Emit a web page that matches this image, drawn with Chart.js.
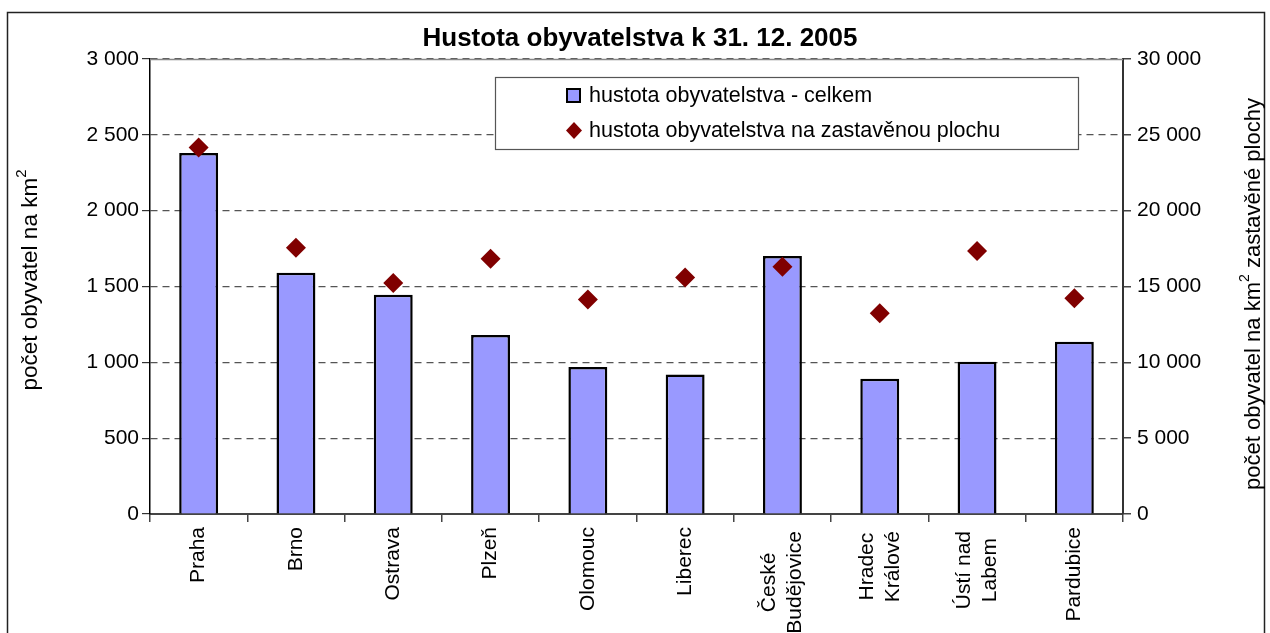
<!DOCTYPE html>
<html>
<head>
<meta charset="utf-8">
<script src="https://cdn.jsdelivr.net/npm/chart.js@4"></script>
<style>
html,body{margin:0;padding:0;background:#fff;}
#wrap{width:1270px;height:633px;position:relative;}
</style>
</head>
<body>
<div id="wrap"><canvas id="c" width="1270" height="633"></canvas></div>
<script>
const categories = ['Praha','Brno','Ostrava','Plzeň','Olomouc','Liberec',['České','Budějovice'],['Hradec','Králové'],['Ústí nad','Labem'],'Pardubice'];
const densityTotal = [2380,1590,1446,1180,969,919,1701,892,1004,1136];
const densityBuilt = [24160,17560,15230,16835,14150,15600,16310,13230,17340,14220];
const leftTicks = [0,500,1000,1500,2000,2500,3000];
const rightTicks = [0,5000,10000,15000,20000,25000,30000];
const titleText = 'Hustota obyvatelstva k 31. 12. 2005';
const seriesNames = ['hustota obyvatelstva - celkem','hustota obyvatelstva na zastavěnou plochu'];
const leftAxisTitle = 'počet obyvatel na km²';
const rightAxisTitle = 'počet obyvatel na km² zastavěné plochy';

const FONT = '"Liberation Sans", Arial, sans-serif';
const fmt = v => String(v).replace(/\B(?=(\d{3})+(?!\d))/g, ' ');

// draws text centred at origin, rendering "²" as a raised small 2
function drawSupText(ctx, text, size) {
  const parts = text.split('²');
  const big = size + 'px ' + FONT, small = Math.round(size * 0.65) + 'px ' + FONT;
  const segs = [];
  parts.forEach((p, i) => {
    if (p) segs.push({ t: p, f: big, dy: 0 });
    if (i < parts.length - 1) segs.push({ t: '2', f: small, dy: -size * 0.42 });
  });
  let total = 0;
  segs.forEach(s => { ctx.font = s.f; s.w = ctx.measureText(s.t).width; total += s.w; });
  let x = -total / 2;
  ctx.textAlign = 'left';
  ctx.textBaseline = 'middle';
  segs.forEach(s => { ctx.font = s.f; ctx.fillText(s.t, x, s.dy); x += s.w; });
}

const decor = {
  id: 'decor',
  beforeDraw(chart) {
    const ctx = chart.ctx;
    ctx.save();
    ctx.fillStyle = '#fff';
    ctx.fillRect(0, 0, chart.width, chart.height);
    ctx.restore();
  },
  afterDraw(chart) {
    const ctx = chart.ctx;
    const a = chart.chartArea;
    ctx.save();
    // outer border
    ctx.strokeStyle = '#222';
    ctx.lineWidth = 1.5;
    ctx.strokeRect(7.5, 12.5, 1257, 640);
    // top plot border
    ctx.strokeStyle = '#888';
    ctx.lineWidth = 1.5;
    ctx.beginPath();
    ctx.moveTo(a.left, a.top + 0.5);
    ctx.lineTo(a.right, a.top + 0.5);
    ctx.stroke();
    // title
    ctx.fillStyle = '#000';
    ctx.font = 'bold 26px ' + FONT;
    ctx.textAlign = 'center';
    ctx.textBaseline = 'alphabetic';
    ctx.fillText(titleText, 640, 46);
    // axis titles
    ctx.save();
    ctx.translate(31, 280);
    ctx.rotate(-Math.PI / 2);
    drawSupText(ctx, leftAxisTitle, 22.5);
    ctx.restore();
    ctx.save();
    ctx.translate(1254, 294);
    ctx.rotate(-Math.PI / 2);
    drawSupText(ctx, rightAxisTitle, 22);
    ctx.restore();
    // category labels (rotated, lines centred on the category)
    const xs = chart.scales.x;
    const lh = 26;
    ctx.font = '21px ' + FONT;
    ctx.textAlign = 'center';
    ctx.textBaseline = 'middle';
    chart.data.labels.forEach((lab, i) => {
      const lines = Array.isArray(lab) ? lab : [lab];
      const cx = xs.getPixelForValue(i);
      const maxW = Math.max(...lines.map(l => ctx.measureText(l).width));
      const top = lines.length > 1 ? 531 : 527;
      lines.forEach((l, j) => {
        ctx.save();
        ctx.translate(cx + (j - (lines.length - 1) / 2) * lh, top + maxW / 2);
        ctx.rotate(-Math.PI / 2);
        ctx.fillText(l, 0, 0);
        ctx.restore();
      });
    });
    // legend
    const lx = 495, ly = 77, lw = 583, lh2 = 72;
    ctx.fillStyle = '#fff';
    ctx.fillRect(lx, ly, lw, lh2);
    ctx.strokeStyle = '#555';
    ctx.lineWidth = 1.2;
    ctx.strokeRect(lx + 0.5, ly + 0.5, lw, lh2);
    const ds = chart.data.datasets;
    ctx.font = '21.5px ' + FONT;
    ctx.textAlign = 'left';
    ctx.textBaseline = 'middle';
    ctx.fillStyle = ds[0].backgroundColor;
    ctx.fillRect(567, 89, 13, 13);
    ctx.strokeStyle = '#000';
    ctx.lineWidth = 2;
    ctx.strokeRect(567, 89, 13, 13);
    ctx.fillStyle = '#000';
    ctx.fillText(ds[0].label, 589, 96);
    ctx.fillStyle = ds[1].backgroundColor;
    ctx.beginPath();
    ctx.moveTo(574, 122); ctx.lineTo(582, 130.5); ctx.lineTo(574, 139); ctx.lineTo(566, 130.5);
    ctx.closePath(); ctx.fill();
    ctx.fillStyle = '#000';
    ctx.fillText(ds[1].label, 589, 131);
    ctx.restore();
  }
};

new Chart(document.getElementById('c'), {
  type: 'bar',
  data: {
    labels: categories,
    datasets: [
      {
        label: seriesNames[0],
        data: densityTotal,
        backgroundColor: '#9999FF',
        borderColor: '#000',
        borderWidth: 2.5,
        barPercentage: 0.4,
        categoryPercentage: 1.0,
        yAxisID: 'y',
        order: 2
      },
      {
        type: 'line',
        label: seriesNames[1],
        data: densityBuilt,
        showLine: false,
        pointStyle: 'rectRot',
        pointRadius: 10,
        pointHoverRadius: 10,
        backgroundColor: '#800000',
        borderColor: '#800000',
        borderWidth: 0,
        yAxisID: 'y2',
        order: 1
      }
    ]
  },
  options: {
    responsive: false,
    animation: false,
    events: [],
    layout: { padding: { top: 59, left: 0, right: 0, bottom: 0 } },
    plugins: { legend: { display: false }, title: { display: false }, tooltip: { enabled: false } },
    scales: {
      x: {
        offset: true,
        afterFit(s) { s.height = 119; },
        grid: { offset: true, drawOnChartArea: false, drawTicks: true, tickLength: 8, color: '#444', lineWidth: 1.5 },
        border: { display: true, color: '#444', width: 2 },
        ticks: { display: false, autoSkip: false }
      },
      y: {
        position: 'left',
        min: 0, max: 3000,
        afterFit(s) { s.width = 150; },
        afterBuildTicks(s) { s.ticks = leftTicks.map(v => ({ value: v })); },
        grid: { color: '#555', lineWidth: 1.2, tickLength: 8, tickColor: '#333', tickBorderDash: [], drawTicks: true },
        border: { display: true, color: '#000', width: 1.5, dash: [7, 5] },
        ticks: { color: '#000', font: { family: FONT, size: 21 }, padding: 3, callback: v => fmt(v) }
      },
      y2: {
        position: 'right',
        min: 0, max: 30000,
        afterFit(s) { s.width = 147; },
        afterBuildTicks(s) { s.ticks = rightTicks.map(v => ({ value: v })); },
        grid: { drawOnChartArea: false, drawTicks: true, tickLength: 8, color: '#444', lineWidth: 1.5 },
        border: { display: true, color: '#333', width: 2 },
        ticks: { color: '#000', font: { family: FONT, size: 21 }, padding: 6, callback: v => fmt(v) }
      }
    }
  },
  plugins: [decor]
});
</script>
</body>
</html>
